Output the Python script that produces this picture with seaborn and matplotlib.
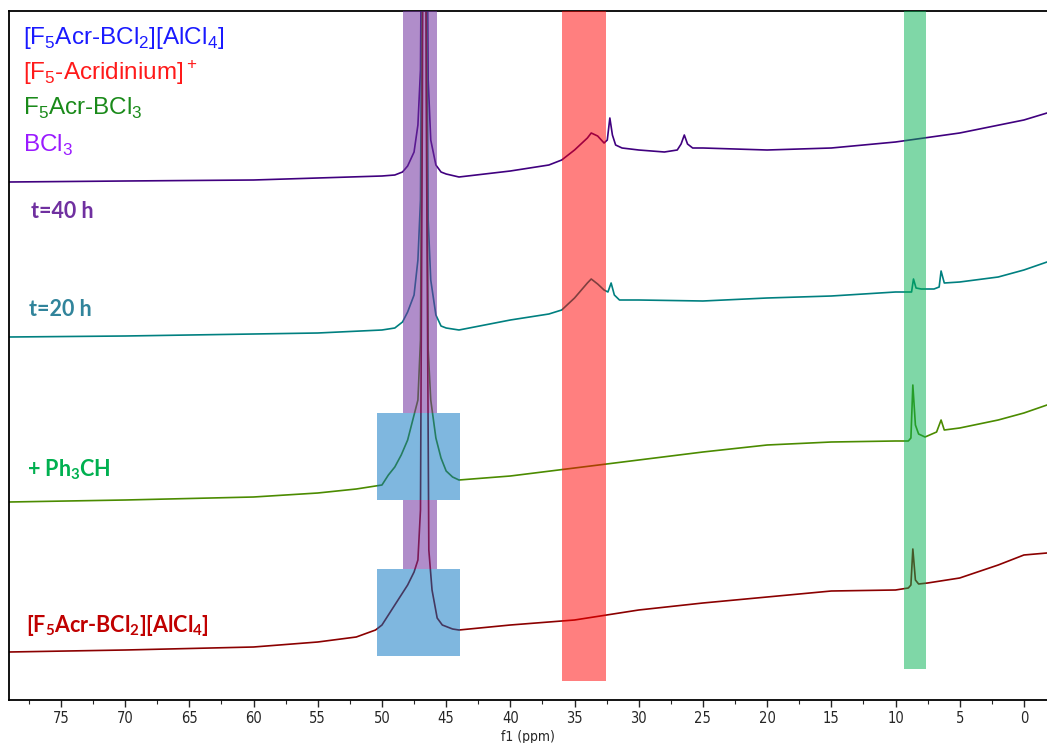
import numpy as np
import pandas as pd
import matplotlib
matplotlib.use("Agg")
import matplotlib.pyplot as plt
from matplotlib.ticker import MultipleLocator
import seaborn as sns

# ---------------- data ----------------
ppm_t40 = [79.05, 70, 60, 55, 50, 49, 48.4, 48.0, 47.5, 47.2, 47.0, 46.85, 46.7, 46.55, 46.4, 46.2,
           45.8, 45.4, 45.0, 44, 40, 37, 36, 35, 34, 33.7, 33.2, 32.7, 32.45, 32.25, 32.05, 31.8,
           31.3, 30, 28, 27, 26.7, 26.45, 26.2, 25.8, 25, 20, 15, 10, 5, 0, -1.8]
int_t40 = [518, 519, 520, 522, 524, 525, 528, 534, 548, 575, 630, 900, 1400, 900, 620, 560,
           535, 528, 526, 523, 529, 535, 540, 550, 562, 567, 564, 557, 560, 582, 565, 555,
           552, 550, 548, 550, 556, 565, 556, 552, 552, 550, 552, 558, 567, 580, 587]

ppm_t20 = [79.05, 70, 60, 55, 50, 49, 48.4, 48.0, 47.5, 47.2, 47.0, 46.85, 46.7, 46.55, 46.4, 46.2,
           45.8, 45.4, 45, 44, 40, 37, 36, 35, 34, 33.7, 33.2, 32.7, 32.4, 32.15, 31.9, 31.5,
           30, 25, 20, 15, 10, 9, 8.75, 8.6, 8.4, 8, 7, 6.6, 6.45, 6.2, 5, 2, 0, -1.8]
int_t20 = [363, 364, 366, 367, 370, 372, 378, 388, 405, 440, 500, 800, 1400, 800, 480, 420,
           385, 374, 372, 370, 380, 386, 390, 402, 417, 421, 416, 410, 408, 417, 405, 400,
           400, 399, 402, 404, 408, 408, 408, 421, 412, 411, 411, 413, 429, 417, 418, 423, 430, 438]

ppm_ph3ch = [79.05, 70, 60, 55, 52, 50, 49.5, 49, 48.5, 48, 47.5, 47.2, 47.0, 46.85, 46.7, 46.55,
             46.4, 46.2, 45.8, 45.4, 45, 44.5, 44, 40, 35, 30, 25, 20, 15, 10, 9.0, 8.8, 8.65,
             8.45, 8.2, 7.7, 6.8, 6.45, 6.2, 5, 2, 0, -1.8]
int_ph3ch = [198, 200, 203, 207, 211, 215, 225, 233, 245, 260, 285, 300, 360, 700, 1400, 700,
             350, 300, 262, 242, 229, 223, 220, 224, 232, 240, 248, 255, 258, 259, 259, 262, 315,
             275, 266, 263, 268, 280, 270, 272, 280, 287, 295]

ppm_start = [79.05, 70, 60, 55, 52, 50.5, 50, 49.5, 49, 48.5, 48, 47.5, 47.2, 47.0, 46.85, 46.7,
             46.55, 46.35, 46.1, 45.7, 45.3, 44.5, 44, 40, 35, 30, 25, 20, 15, 10, 9.0, 8.8,
             8.65, 8.45, 8.2, 7.5, 5, 2, 0, -1.8]
int_start = [48, 50, 53, 58, 63, 70, 75, 85, 95, 105, 115, 128, 140, 190, 600, 1400,
             600, 150, 110, 82, 75, 71, 70, 75, 80, 90, 97, 103, 109, 110, 112, 115,
             151, 120, 116, 117, 122, 135, 145, 147]

spectrum_names = ["t=40 h", "t=20 h", "+ Ph3CH", "start"]
spectrum_colors = ["#40007f", "#008080", "#4b8b00", "#8b0000"]

# shaded regions (ppm)
band_purple = (48.4, 45.7)
band_red = (36.0, 32.55)
band_green = (9.35, 7.63)
box_blue = (50.4, 43.9)

xticks = [75, 70, 65, 60, 55, 50, 45, 40, 35, 30, 25, 20, 15, 10, 5, 0]

# ---------------- build long-form table ----------------
frames = []
for name, p, v in zip(spectrum_names,
                      [ppm_t40, ppm_t20, ppm_ph3ch, ppm_start],
                      [int_t40, int_t20, int_ph3ch, int_start]):
    frames.append(pd.DataFrame({"ppm": p, "intensity": v, "spectrum": name}))
df = pd.concat(frames, ignore_index=True)

# ---------------- figure ----------------
sns.set_style("white")
plt.rcParams["mathtext.fontset"] = "custom"
plt.rcParams["mathtext.rm"] = "Liberation Sans"
plt.rcParams["mathtext.bf"] = "Lato:bold"

W, H = 1047, 743
fig = plt.figure(figsize=(W / 100, H / 100), dpi=100)
ax = fig.add_axes([9 / W, 43 / H, (W - 9) / W, 689 / H])

sns.lineplot(data=df, x="ppm", y="intensity", hue="spectrum",
             palette=dict(zip(spectrum_names, spectrum_colors)),
             estimator=None, sort=False, legend=False, linewidth=1.2, ax=ax, zorder=2)

ax.set_xlim(79.05, -1.8)
ax.set_ylim(0, 689)

# bands (in data coordinates)
ax.fill_between(band_purple, 287, 689, color="#7030a0", alpha=0.55, lw=0, zorder=3)
ax.fill_between(band_purple, 131, 200, color="#7030a0", alpha=0.55, lw=0, zorder=3)
ax.fill_between(box_blue, 200, 287, color="#0070c0", alpha=0.5, lw=0, zorder=3)
ax.fill_between(box_blue, 44, 131, color="#0070c0", alpha=0.5, lw=0, zorder=3)
ax.fill_between(band_red, 19, 689, color="#ff0000", alpha=0.5, lw=0, zorder=3)
ax.fill_between(band_green, 31, 689, color="#00b050", alpha=0.5, lw=0, zorder=3)

# axes styling
ax.spines["right"].set_visible(False)
for s in ["left", "bottom", "top"]:
    ax.spines[s].set_color("black")
    ax.spines[s].set_linewidth(1.3)
ax.set_yticks([])
ax.set_ylabel("")
ax.set_xticks(xticks)
ax.set_xticklabels([str(t) for t in xticks])
ax.xaxis.set_minor_locator(MultipleLocator(2.5))
ax.tick_params(axis="x", which="major", direction="out", length=5, width=1, bottom=True,
               pad=3, labelsize=10.5)
ax.tick_params(axis="x", which="minor", direction="out", length=3, width=0.8, bottom=True)
for lab in ax.get_xticklabels():
    lab.set_family("DejaVu Sans")
    lab.set_stretch("condensed")
ax.set_xlabel("f1 (ppm)", fontsize=10, family="DejaVu Sans", fontstretch="condensed")
ax.xaxis.set_label_coords(0.5, -0.0435)

# legend-like annotations (top-left)
leg = [(r"[F$_5$Acr-BCl$_2$][AlCl$_4$]", "#1a1aff", 38),
       (r"[F$_5$-Acridinium]$^+$", "#ff1a1a", 73),
       (r"F$_5$Acr-BCl$_3$", "#1a8a1a", 108),
       (r"BCl$_3$", "#9a1aff", 145)]
for txt, col, yp in leg:
    fig.text(23 / W, 1 - yp / H, txt, color=col, fontsize=17.5, family="Liberation Sans",
             va="center", ha="left")

labels = [(r"t=40 h", "#7030a0", 31, 212),
          (r"t=20 h", "#31849b", 29, 309),
          (r"+ Ph$_\mathbf{3}$CH", "#00b050", 27, 470),
          (r"[F$_\mathbf{5}$Acr-BCl$_\mathbf{2}$][AlCl$_\mathbf{4}$]", "#c00000", 26, 625)]
for txt, col, xp, yp in labels:
    fig.text(xp / W, 1 - yp / H, txt, color=col, fontsize=15.5, family="Lato",
             fontweight="bold", va="center", ha="left")

fig.savefig("out.png", dpi=100)
